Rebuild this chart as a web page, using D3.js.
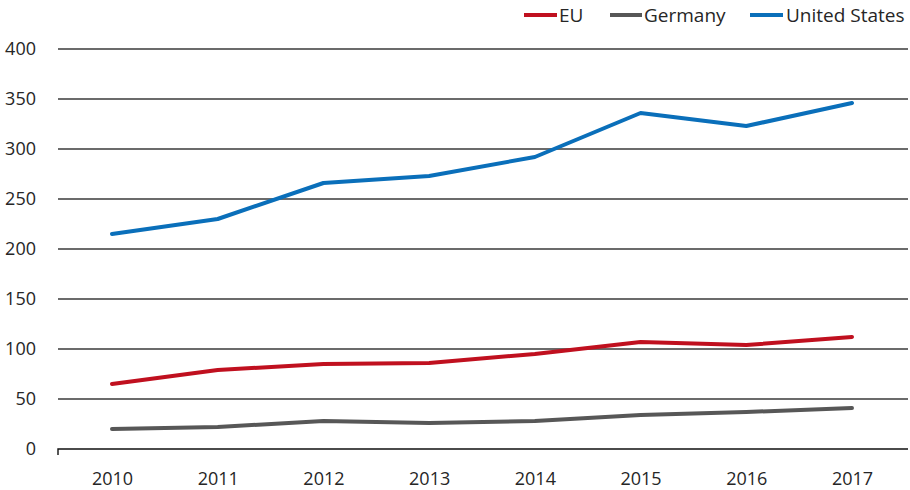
<!DOCTYPE html>
<html>
<head>
<meta charset="utf-8">
<script src="https://cdn.jsdelivr.net/npm/d3@7"></script>
<style>
  html, body { margin: 0; padding: 0; background: #fff; }
  svg { display: block; font-family: "Open Sans", "Noto Sans", sans-serif; }
</style>
</head>
<body>
<svg id="chart" width="910" height="490"></svg>
<script>
// Years on the x axis
const years = ["2010", "2011", "2012", "2013", "2014", "2015", "2016", "2017"];

// Series values
const euValues = [65, 79, 85, 86, 95, 107, 104, 112];
const germanyValues = [20, 22, 28, 26, 28, 34, 37, 41];
const usValues = [215, 230, 266, 273, 292, 336, 323, 346];

// Y-axis ticks
const yTicks = [0, 50, 100, 150, 200, 250, 300, 350, 400];

const seriesNames = ["EU", "Germany", "United States"];
const seriesColors = ["#c0101f", "#575757", "#0a6fba"];

const series = seriesNames.map((name, i) => ({
  name,
  color: seriesColors[i],
  values: [euValues, germanyValues, usValues][i]
}));

const svg = d3.select("#chart");

const plotLeft = 58, plotRight = 908, plotTop = 49, plotBottom = 449;

const x = d3.scalePoint()
  .domain(years)
  .range([112, 852]);

const y = d3.scaleLinear()
  .domain([0, 400])
  .range([plotBottom, plotTop]);

// Horizontal gridlines
svg.append("g")
  .selectAll("line")
  .data(yTicks.filter(t => t > 0))
  .join("line")
  .attr("x1", plotLeft)
  .attr("x2", plotRight)
  .attr("y1", d => y(d))
  .attr("y2", d => y(d))
  .attr("stroke", "#3a3a3a")
  .attr("stroke-width", 1.4);

// Y-axis labels
svg.append("g")
  .selectAll("text")
  .data(yTicks)
  .join("text")
  .attr("x", 36)
  .attr("y", d => y(d))
  .attr("dy", "0.35em")
  .attr("text-anchor", "end")
  .attr("font-size", 18)
  .attr("fill", "#262626")
  .text(d => d);

// Category labels along the bottom
const xAxis = d3.axisBottom(x).tickSize(0).tickPadding(0).tickFormat(d => d);
const axisG = svg.append("g")
  .attr("transform", `translate(0,${plotBottom})`)
  .call(xAxis);
axisG.select(".domain").remove();
axisG.selectAll("text")
  .attr("y", 36)
  .attr("dy", 0)
  .attr("font-size", 18)
  .attr("font-family", "\"Open Sans\", \"Noto Sans\", sans-serif")
  .attr("fill", "#262626");

// Baseline with the small tick at its left end
svg.append("path")
  .attr("d", `M${plotLeft},${plotBottom + 6}V${plotBottom}H${plotRight}`)
  .attr("fill", "none")
  .attr("stroke", "#111")
  .attr("stroke-width", 1.4);

// Series lines
const line = d3.line()
  .x((d, i) => x(years[i]))
  .y(d => y(d));

svg.append("g")
  .selectAll("path")
  .data(series)
  .join("path")
  .attr("d", d => line(d.values))
  .attr("fill", "none")
  .attr("stroke", d => d.color)
  .attr("stroke-width", 4)
  .attr("stroke-linejoin", "round")
  .attr("stroke-linecap", "round");

// Legend
const legendItems = [
  { name: "EU", x1: 524, x2: 557, tx: 559 },
  { name: "Germany", x1: 610, x2: 642, tx: 644 },
  { name: "United States", x1: 750, x2: 783, tx: 786 }
];
const legend = svg.append("g");
legendItems.forEach((item, i) => {
  legend.append("line")
    .attr("x1", item.x1).attr("x2", item.x2)
    .attr("y1", 15).attr("y2", 15)
    .attr("stroke", seriesColors[i])
    .attr("stroke-width", 4);
  legend.append("text")
    .attr("x", item.tx)
    .attr("y", 15)
    .attr("dy", "0.35em")
    .attr("font-size", 19)
    .attr("fill", "#262626")
    .text(item.name);
});
</script>
</body>
</html>
